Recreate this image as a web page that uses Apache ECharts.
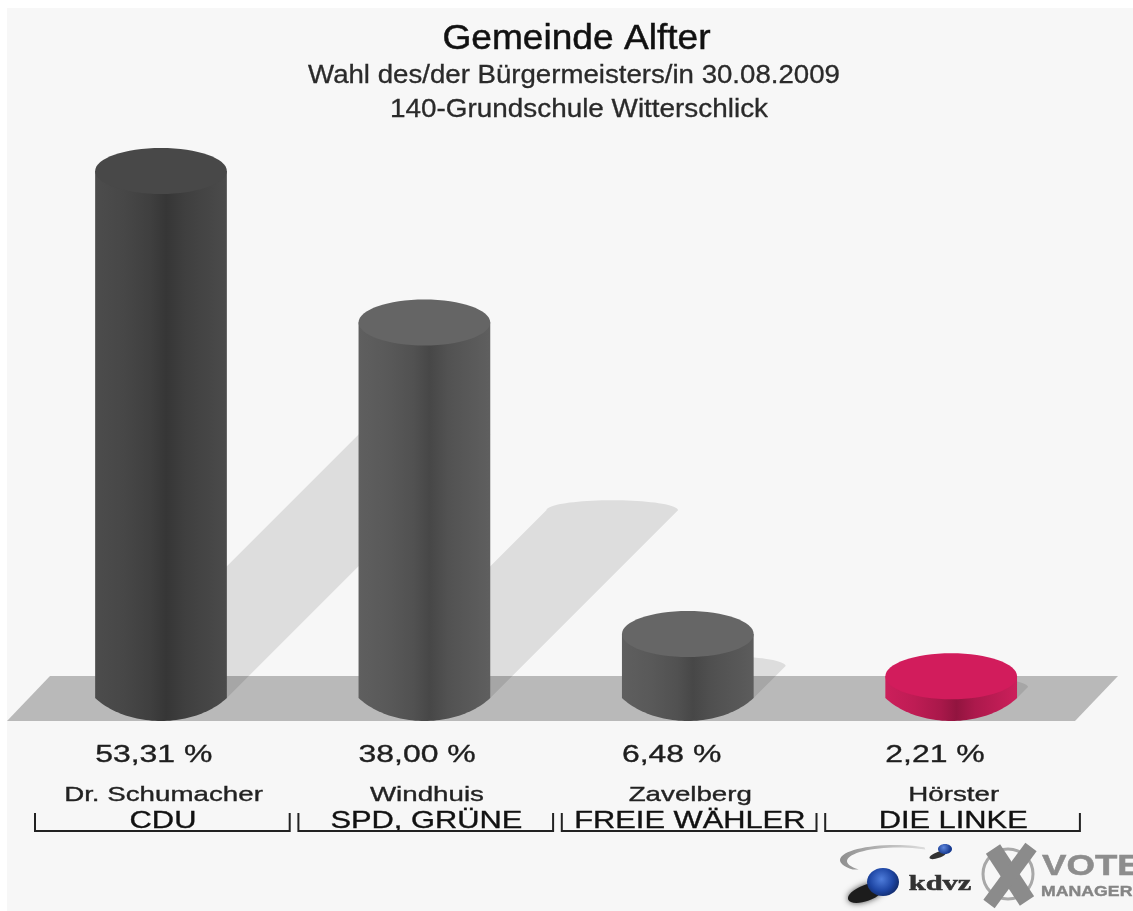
<!DOCTYPE html>
<html>
<head>
<meta charset="utf-8">
<style>
html,body{margin:0;padding:0;background:#fff}
#chart{width:1133px;height:911px;filter:blur(0.45px)}
</style>
<script src="https://cdn.jsdelivr.net/npm/echarts@6/dist/echarts.min.js"></script>
</head>
<body>
<div id="chart"></div>
<script>
const titleLines = ['Gemeinde Alfter', 'Wahl des/der Bürgermeisters/in 30.08.2009', '140-Grundschule Witterschlick'];
const candidates = ['Dr. Schumacher', 'Windhuis', 'Zavelberg', 'Hörster'];
const parties = ['CDU', 'SPD, GRÜNE', 'FREIE WÄHLER', 'DIE LINKE'];
const shares = [53.31, 38.00, 6.48, 2.21];
const shareLabels = ['53,31 %', '38,00 %', '6,48 %', '2,21 %'];

const sideColors = [
  ['#4c4c4c', '#363636', '#4b4b4b'],
  ['#5f5f5f', '#474747', '#5f5f5f'],
  ['#5f5f5f', '#474747', '#5c5c5c'],
  ['#cc1f5b', '#92143f', '#cc1f5b']
];
const capColors = ['#484848', '#656565', '#666666', '#d21c5c'];

const FONT = '"Liberation Sans", Arial, sans-serif';
const RY = 23;

function ellipseArc(cx, cy, rx, ry, from, to, n) {
  const pts = [];
  for (let k = 0; k <= n; k++) {
    const a = from + (to - from) * k / n;
    pts.push([cx + rx * Math.cos(a), cy + ry * Math.sin(a)]);
  }
  return pts;
}

function mix(a, b, t) {
  const pa = parseInt(a.slice(1), 16), pb = parseInt(b.slice(1), 16);
  const ch = s => Math.round(((pa >> s) & 255) * (1 - t) + ((pb >> s) & 255) * t);
  return 'rgb(' + ch(16) + ',' + ch(8) + ',' + ch(0) + ')';
}

function renderShadow(params, api) {
  const i = api.value(0);
  const base = api.coord([i, 0]);
  const top = api.coord([i, api.value(1)]);
  const r = api.size([1, 0])[0] * 0.25;
  const d = (base[1] - top[1]) * 0.5;
  const pts = [[base[0] - r, base[1]]]
    .concat(ellipseArc(base[0] + d, base[1] - d, r, 10, Math.PI, 2 * Math.PI, 40))
    .concat([[base[0] + r, base[1]]]);
  return { type: 'polygon', shape: { points: pts }, style: { fill: 'rgba(0,0,0,0.1)' }, silent: true };
}

function renderCylinder(params, api) {
  const i = api.value(0);
  const base = api.coord([i, 0]);
  const top = api.coord([i, api.value(1)]);
  const r = api.size([1, 0])[0] * 0.25;
  const c = sideColors[i];
  const a0 = Math.acos(0.8);
  const rx = r * 1.25, ry = RY / (1 - Math.sin(a0));
  const cy = base[1] + RY - ry;
  const side = [[base[0] - r, top[1]]]
    .concat(ellipseArc(base[0], cy, rx, ry, Math.PI - a0, a0, 50))
    .concat([[base[0] + r, top[1]]]);
  return {
    type: 'group',
    children: [
      {
        type: 'polygon', shape: { points: side }, silent: true,
        style: {
          fill: new echarts.graphic.LinearGradient(0, 0, 1, 0, [
            { offset: 0, color: c[0] },
            { offset: 0.22, color: mix(c[0], c[1], 0.25) },
            { offset: 0.42, color: mix(c[0], c[1], 0.6) },
            { offset: 0.54, color: c[1] },
            { offset: 0.68, color: mix(c[2], c[1], 0.55) },
            { offset: 1, color: c[2] }
          ])
        }
      },
      {
        type: 'ellipse', silent: true,
        shape: { cx: base[0], cy: top[1], rx: r, ry: RY },
        style: { fill: capColors[i] }
      }
    ]
  };
}

function txt(text, x, y, size, sx, align, fill) {
  return {
    type: 'text', x: x, y: y, scaleX: sx, silent: true,
    style: {
      text: text, fill: fill, stroke: fill, lineWidth: 0.35, align: align, verticalAlign: 'middle',
      font: size + 'px ' + FONT
    }
  };
}

function renderLabels(params, api) {
  const i = api.value(0);
  const base = api.coord([i, 0]);
  const band = api.size([1, 0])[0];
  const l = base[0] - band / 2 + 5.7, rr = base[0] + band / 2 - 3;
  return {
    type: 'group',
    children: [
      txt(shareLabels[i], base[0] - band * 0.25, 755, 24, 1.33, 'left', '#1e1e1e'),
      txt(candidates[i], base[0] + 2.5, 795, 21, 1.32, 'center', '#222'),
      txt(parties[i], base[0] + 2, 821, 24, 1.285, 'center', '#111'),
      {
        type: 'polyline', silent: true,
        shape: { points: [[l, 813], [l, 831], [rr, 831], [rr, 813]] },
        style: { stroke: '#222', lineWidth: 2, fill: 'none' }
      }
    ]
  };
}

const swoosh = ellipseArc(895, 860, 55, 15, 1.68 * Math.PI, 0.78 * Math.PI, 30)
  .concat(ellipseArc(898, 861, 51, 13.5, 0.78 * Math.PI, 1.68 * Math.PI, 30));

const logo = [
  { type: 'polygon', shape: { points: swoosh }, style: { fill: new echarts.graphic.LinearGradient(0, 0, 1, 0, [{ offset: 0, color: '#8f8f8f' }, { offset: 1, color: '#dddddd' }]) }, silent: true },
  { type: 'ellipse', x: 866, y: 893, rotation: 0.35, shape: { cx: 0, cy: 0, rx: 19, ry: 8 }, style: { fill: '#1c1c1c', shadowBlur: 6, shadowColor: '#444' }, silent: true },
  { type: 'ellipse', shape: { cx: 883, cy: 882, rx: 16, ry: 14 }, style: { fill: new echarts.graphic.RadialGradient(0.45, 0.4, 0.65, [{ offset: 0, color: '#4f7ddb' }, { offset: 0.65, color: '#1e46a4' }, { offset: 1, color: '#122c6c' }]) }, silent: true },
  { type: 'ellipse', x: 938, y: 855, rotation: 0.35, shape: { cx: 0, cy: 0, rx: 9, ry: 3 }, style: { fill: '#333' }, silent: true },
  { type: 'ellipse', shape: { cx: 945, cy: 849, rx: 7, ry: 5 }, style: { fill: new echarts.graphic.RadialGradient(0.4, 0.35, 0.7, [{ offset: 0, color: '#5d86dd' }, { offset: 1, color: '#173a90' }]) }, silent: true },
  { type: 'text', x: 940, y: 885, scaleX: 1.45, silent: true, style: { text: 'kdvz', fill: '#333', stroke: '#333', lineWidth: 0.5, align: 'center', verticalAlign: 'middle', font: 'bold 21px "Liberation Serif", serif' } },
  { type: 'circle', shape: { cx: 1008, cy: 874, r: 25 }, style: { fill: 'none', stroke: '#a8a8a8', lineWidth: 3 }, silent: true },
  { type: 'line', shape: { x1: 993, y1: 849, x2: 1027, y2: 901 }, style: { stroke: '#8b8b8b', lineWidth: 17 }, silent: true },
  { type: 'line', shape: { x1: 1031, y1: 847, x2: 989, y2: 904 }, style: { stroke: '#8b8b8b', lineWidth: 14 }, silent: true },
  { type: 'text', x: 1042, y: 867, scaleX: 1.22, silent: true, style: { text: 'VOTE', fill: '#8d8d8d', stroke: '#8d8d8d', lineWidth: 0.5, align: 'left', verticalAlign: 'middle', font: 'bold 30px ' + FONT } },
  { type: 'text', x: 1041, y: 892, scaleX: 1.18, silent: true, style: { text: 'MANAGER', fill: '#858585', stroke: '#858585', lineWidth: 0.4, align: 'left', verticalAlign: 'middle', font: 'bold 15px ' + FONT } }
];

const chart = echarts.init(document.getElementById('chart'), null, { renderer: 'canvas' });
chart.setOption({
  animation: false,
  backgroundColor: '#ffffff',
  grid: { left: 29.3, width: 1053.6, top: 105, height: 593 },
  xAxis: { type: 'category', data: candidates, show: false },
  yAxis: { type: 'value', min: 0, max: 60, show: false },
  graphic: {
    elements: [
      { type: 'rect', shape: { x: 7, y: 8, width: 1126, height: 903 }, style: { fill: '#f7f7f7' }, silent: true },
      { type: 'polygon', shape: { points: [[7, 721], [50, 676], [1118, 676], [1075, 721]] }, style: { fill: '#b9b9b9' }, silent: true },
      { type: 'text', x: 576.5, y: 39, scaleX: 1.06, silent: true, style: { text: titleLines[0], fill: '#111', stroke: '#111', lineWidth: 0.5, align: 'center', verticalAlign: 'middle', font: '35px ' + FONT } },
      { type: 'text', x: 574, y: 76, scaleX: 1.105, silent: true, style: { text: titleLines[1], fill: '#2a2a2a', stroke: '#2a2a2a', lineWidth: 0.3, align: 'center', verticalAlign: 'middle', font: '25px ' + FONT } },
      { type: 'text', x: 579, y: 110, scaleX: 1.115, silent: true, style: { text: titleLines[2], fill: '#2a2a2a', stroke: '#2a2a2a', lineWidth: 0.3, align: 'center', verticalAlign: 'middle', font: '25px ' + FONT } }
    ].concat(logo)
  },
  series: [
    { type: 'custom', name: 'Schatten', renderItem: renderShadow, data: shares.map((v, i) => [i, v]), encode: { x: 0, y: 1 }, z: 2, silent: true },
    { type: 'custom', name: 'Stimmenanteil', renderItem: renderCylinder, data: shares.map((v, i) => [i, v]), encode: { x: 0, y: 1 }, z: 3, silent: true },
    { type: 'custom', name: 'Beschriftung', renderItem: renderLabels, data: shares.map((v, i) => [i, v]), encode: { x: 0, y: 1 }, z: 4, silent: true }
  ]
});
</script>
</body>
</html>
